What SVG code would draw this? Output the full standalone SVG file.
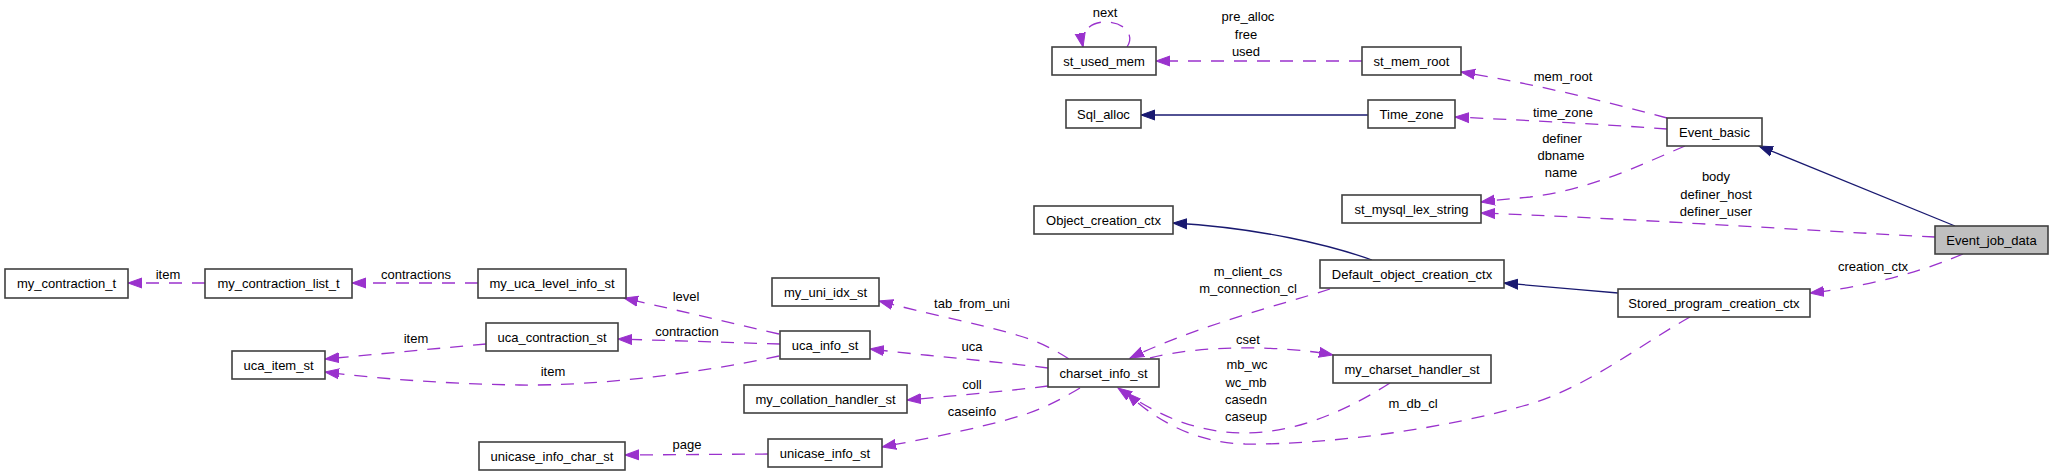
<svg xmlns="http://www.w3.org/2000/svg" width="2053" height="476" viewBox="0 0 2053 476">
<style>
.n rect{fill:#fff;stroke:#404040;stroke-width:1.6}
.n text,.l{font-family:"Liberation Sans",Arial,sans-serif;font-size:13px;fill:#000;text-anchor:middle}
.d{fill:none;stroke:#9a32cd;stroke-width:1.3;stroke-dasharray:13,10;marker-end:url(#ap)}
.s{fill:none;stroke:#191970;stroke-width:1.3;marker-end:url(#ab)}
</style>
<defs>
<marker id="ap" markerUnits="userSpaceOnUse" markerWidth="16" markerHeight="12" refX="14" refY="6" orient="auto"><path d="M0,1 L14,6 L0,11 z" fill="#9a32cd" stroke="#9a32cd"/></marker>
<marker id="ab" markerUnits="userSpaceOnUse" markerWidth="16" markerHeight="12" refX="14" refY="6" orient="auto"><path d="M0,1 L14,6 L0,11 z" fill="#191970" stroke="#191970"/></marker>
</defs>
<rect width="2053" height="476" fill="#fff"/>
<g id="edges">
<path class="d" d="M205,283 L128,283"/>
<path class="d" d="M478,283 L352,283"/>
<path class="d" d="M779,334 L624,298"/>
<path class="d" d="M780,344 L618,339"/>
<path class="d" d="M779,356 C700,373 600,386 520,385 C450,384 380,379 325,372"/>
<path class="d" d="M486,344 L325,359"/>
<path class="d" d="M768,454 L625,455"/>
<path class="d" d="M1069,359 C1055,350 1040,342 1020,336 C980,324 920,312 879,301"/>
<path class="d" d="M1048,368 C1000,362 930,356 870,349"/>
<path class="d" d="M1048,386 C1000,392 950,396 907,400"/>
<path class="d" d="M1080,388 C1060,400 1040,410 1020,416 C980,428 930,438 882,447"/>
<path class="d" d="M1330,289 C1280,305 1200,325 1130,358"/>
<path class="d" d="M1150,358 C1200,345 1280,345 1333,355"/>
<path class="d" d="M1390,383 C1340,415 1290,433 1245,433 C1190,433 1150,410 1118,388"/>
<path class="d" d="M1690,317 C1640,345 1590,385 1533,403 C1450,428 1330,445 1245,444 C1195,443 1155,420 1127,393"/>
<path class="s" d="M1372,260 C1330,245 1260,228 1173,223"/>
<path class="s" d="M1618,293 C1580,290 1540,286 1504,283"/>
<path class="s" d="M1368,115 L1141,115"/>
<path class="d" d="M1362,61 L1156,61"/>
<path class="d" d="M1127,47 C1135,35 1125,22 1105,22 C1090,22 1080,32 1083,47"/>
<path class="d" d="M1667,118 C1600,100 1530,83 1461,72"/>
<path class="d" d="M1667,129 C1600,124 1520,120 1455,117"/>
<path class="d" d="M1685,146 C1640,165 1590,190 1530,197 C1510,199 1495,200 1481,202"/>
<path class="d" d="M1935,237 C1800,230 1620,218 1481,213"/>
<path class="s" d="M1955,226 L1759,146"/>
<path class="d" d="M1963,254 C1930,268 1880,285 1810,293"/>
<text class="l" x="168" y="278.5">item</text>
<text class="l" x="416" y="278.5">contractions</text>
<text class="l" x="416" y="342.5">item</text>
<text class="l" x="686" y="300.5">level</text>
<text class="l" x="687" y="335.5">contraction</text>
<text class="l" x="553" y="376">item</text>
<text class="l" x="972" y="308">tab_from_uni</text>
<text class="l" x="972" y="351">uca</text>
<text class="l" x="972" y="389">coll</text>
<text class="l" x="972" y="416">caseinfo</text>
<text class="l" x="687" y="448.5">page</text>
<text class="l" x="1248" y="276">m_client_cs</text>
<text class="l" x="1248" y="293">m_connection_cl</text>
<text class="l" x="1248" y="344">cset</text>
<text class="l" x="1247" y="369">mb_wc</text>
<text class="l" x="1246" y="387">wc_mb</text>
<text class="l" x="1246" y="404">casedn</text>
<text class="l" x="1246" y="421">caseup</text>
<text class="l" x="1413" y="408">m_db_cl</text>
<text class="l" x="1105" y="17">next</text>
<text class="l" x="1248" y="21">pre_alloc</text>
<text class="l" x="1246" y="39">free</text>
<text class="l" x="1246" y="56">used</text>
<text class="l" x="1563" y="80.5">mem_root</text>
<text class="l" x="1563" y="117">time_zone</text>
<text class="l" x="1562" y="143">definer</text>
<text class="l" x="1561" y="160">dbname</text>
<text class="l" x="1561" y="177">name</text>
<text class="l" x="1716" y="181">body</text>
<text class="l" x="1716" y="199">definer_host</text>
<text class="l" x="1716" y="216">definer_user</text>
<text class="l" x="1873" y="271">creation_ctx</text>
</g>
<g id="my_contraction_t" class="n"><rect x="5" y="269" width="123" height="29"/><text x="66.5" y="288">my_contraction_t</text></g>
<g id="my_contraction_list_t" class="n"><rect x="205" y="269" width="147" height="29"/><text x="278.5" y="288">my_contraction_list_t</text></g>
<g id="my_uca_level_info_st" class="n"><rect x="478" y="269" width="148" height="29"/><text x="552" y="288">my_uca_level_info_st</text></g>
<g id="uca_contraction_st" class="n"><rect x="486" y="323" width="132" height="28"/><text x="552" y="342">uca_contraction_st</text></g>
<g id="uca_item_st" class="n"><rect x="232" y="351" width="93" height="28"/><text x="278.5" y="370">uca_item_st</text></g>
<g id="unicase_info_char_st" class="n"><rect x="479" y="442" width="146" height="28"/><text x="552" y="461">unicase_info_char_st</text></g>
<g id="my_uni_idx_st" class="n"><rect x="772" y="278" width="107" height="28"/><text x="825.5" y="297">my_uni_idx_st</text></g>
<g id="uca_info_st" class="n"><rect x="780" y="331" width="90" height="28"/><text x="825" y="350">uca_info_st</text></g>
<g id="my_collation_handler_st" class="n"><rect x="744" y="385" width="163" height="28"/><text x="825.5" y="404">my_collation_handler_st</text></g>
<g id="unicase_info_st" class="n"><rect x="768" y="439" width="114" height="28"/><text x="825" y="458">unicase_info_st</text></g>
<g id="charset_info_st" class="n"><rect x="1048" y="359" width="111" height="28"/><text x="1103.5" y="378">charset_info_st</text></g>
<g id="my_charset_handler_st" class="n"><rect x="1333" y="355" width="158" height="28"/><text x="1412" y="374">my_charset_handler_st</text></g>
<g id="Default_object_creation_ctx" class="n"><rect x="1320" y="260" width="184" height="28"/><text x="1412" y="279">Default_object_creation_ctx</text></g>
<g id="Object_creation_ctx" class="n"><rect x="1034" y="206" width="139" height="28"/><text x="1103.5" y="225">Object_creation_ctx</text></g>
<g id="st_mysql_lex_string" class="n"><rect x="1342" y="195" width="139" height="28"/><text x="1411.5" y="214">st_mysql_lex_string</text></g>
<g id="Sql_alloc" class="n"><rect x="1066" y="100" width="75" height="28"/><text x="1103.5" y="119">Sql_alloc</text></g>
<g id="Time_zone" class="n"><rect x="1368" y="100" width="87" height="28"/><text x="1411.5" y="119">Time_zone</text></g>
<g id="st_used_mem" class="n"><rect x="1052" y="47" width="104" height="28"/><text x="1104" y="66">st_used_mem</text></g>
<g id="st_mem_root" class="n"><rect x="1362" y="47" width="99" height="28"/><text x="1411.5" y="66">st_mem_root</text></g>
<g id="Event_basic" class="n"><rect x="1667" y="118" width="95" height="28"/><text x="1714.5" y="137">Event_basic</text></g>
<g id="Event_job_data" class="n"><rect x="1935" y="226" width="113" height="28" style="fill:#bfbfbf"/><text x="1991.5" y="245">Event_job_data</text></g>
<g id="Stored_program_creation_ctx" class="n"><rect x="1618" y="289" width="192" height="28"/><text x="1714" y="308">Stored_program_creation_ctx</text></g>
</svg>
